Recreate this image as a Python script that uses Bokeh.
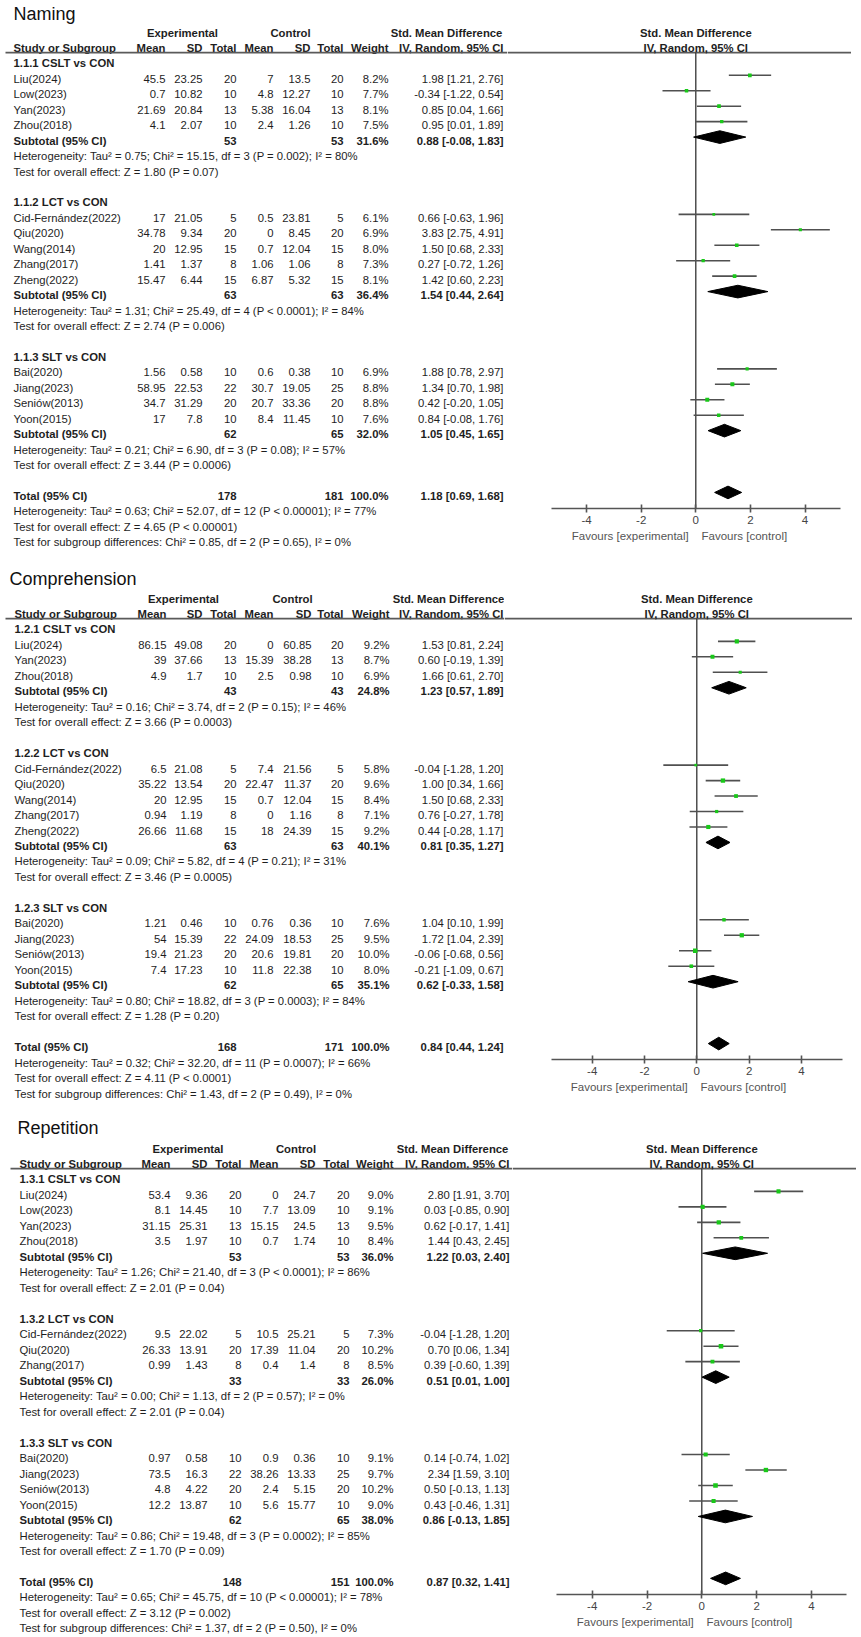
from bokeh.plotting import figure
from bokeh.layouts import column, row
from bokeh.models import Range1d, LinearAxis, FixedTicker, ColumnDataSource
from bokeh.core.properties import value
from bokeh.embed import file_html
from bokeh.resources import INLINE

FONT = "Liberation Sans"
TXT = "#1e1e1e"
GREEN = "#19c819"
GREY = "#505050"
BODY = "11.3px"

# ======================= Naming =======================
N_STUDY = ["Liu(2024)", "Low(2023)", "Yan(2023)", "Zhou(2018)",
           "Cid-Fernández(2022)", "Qiu(2020)", "Wang(2014)", "Zhang(2017)", "Zheng(2022)",
           "Bai(2020)", "Jiang(2023)", "Seniów(2013)", "Yoon(2015)"]
N_GROUP = [0, 0, 0, 0, 1, 1, 1, 1, 1, 2, 2, 2, 2]
N_E_MEAN = [45.5, 0.7, 21.69, 4.1, 17, 34.78, 20, 1.41, 15.47, 1.56, 58.95, 34.7, 17]
N_E_SD = [23.25, 10.82, 20.84, 2.07, 21.05, 9.34, 12.95, 1.37, 6.44, 0.58, 22.53, 31.29, 7.8]
N_E_N = [20, 10, 13, 10, 5, 20, 15, 8, 15, 10, 22, 20, 10]
N_C_MEAN = [7, 4.8, 5.38, 2.4, 0.5, 0, 0.7, 1.06, 6.87, 0.6, 30.7, 20.7, 8.4]
N_C_SD = [13.5, 12.27, 16.04, 1.26, 23.81, 8.45, 12.04, 1.06, 5.32, 0.38, 19.05, 33.36, 11.45]
N_C_N = [20, 10, 13, 10, 5, 20, 15, 8, 15, 10, 25, 20, 10]
N_WEIGHT = [8.2, 7.7, 8.1, 7.5, 6.1, 6.9, 8.0, 7.3, 8.1, 6.9, 8.8, 8.8, 7.6]
N_SMD = [1.98, -0.34, 0.85, 0.95, 0.66, 3.83, 1.50, 0.27, 1.42, 1.88, 1.34, 0.42, 0.84]
N_LO = [1.21, -1.22, 0.04, 0.01, -0.63, 2.75, 0.68, -0.72, 0.60, 0.78, 0.70, -0.20, -0.08]
N_HI = [2.76, 0.54, 1.66, 1.89, 1.96, 4.91, 2.33, 1.26, 2.23, 2.97, 1.98, 1.05, 1.76]
N_SUB_LABEL = ["1.1.1 CSLT vs CON", "1.1.2 LCT vs CON", "1.1.3 SLT vs CON"]
N_SUB_E_N = [53, 63, 62]
N_SUB_C_N = [53, 63, 65]
N_SUB_WEIGHT = [31.6, 36.4, 32.0]
N_SUB_SMD = [0.88, 1.54, 1.05]
N_SUB_LO = [-0.08, 0.44, 0.45]
N_SUB_HI = [1.83, 2.64, 1.65]
N_SUB_HET = ["Heterogeneity: Tau² = 0.75; Chi² = 15.15, df = 3 (P = 0.002); I² = 80%",
             "Heterogeneity: Tau² = 1.31; Chi² = 25.49, df = 4 (P < 0.0001); I² = 84%",
             "Heterogeneity: Tau² = 0.21; Chi² = 6.90, df = 3 (P = 0.08); I² = 57%"]
N_SUB_Z = ["Test for overall effect: Z = 1.80 (P = 0.07)",
           "Test for overall effect: Z = 2.74 (P = 0.006)",
           "Test for overall effect: Z = 3.44 (P = 0.0006)"]
N_TOT_N = [178, 181]
N_TOT_SMD = [1.18, 0.69, 1.68]
N_TOT_HET = "Heterogeneity: Tau² = 0.63; Chi² = 52.07, df = 12 (P < 0.00001); I² = 77%"
N_TOT_Z = "Test for overall effect: Z = 4.65 (P < 0.00001)"
N_SUBDIFF = "Test for subgroup differences: Chi² = 0.85, df = 2 (P = 0.65), I² = 0%"

# ======================= Comprehension =======================
C_STUDY = ["Liu(2024)", "Yan(2023)", "Zhou(2018)",
           "Cid-Fernández(2022)", "Qiu(2020)", "Wang(2014)", "Zhang(2017)", "Zheng(2022)",
           "Bai(2020)", "Jiang(2023)", "Seniów(2013)", "Yoon(2015)"]
C_GROUP = [0, 0, 0, 1, 1, 1, 1, 1, 2, 2, 2, 2]
C_E_MEAN = [86.15, 39, 4.9, 6.5, 35.22, 20, 0.94, 26.66, 1.21, 54, 19.4, 7.4]
C_E_SD = [49.08, 37.66, 1.7, 21.08, 13.54, 12.95, 1.19, 11.68, 0.46, 15.39, 21.23, 17.23]
C_E_N = [20, 13, 10, 5, 20, 15, 8, 15, 10, 22, 20, 10]
C_C_MEAN = [0, 15.39, 2.5, 7.4, 22.47, 0.7, 0, 18, 0.76, 24.09, 20.6, 11.8]
C_C_SD = [60.85, 38.28, 0.98, 21.56, 11.37, 12.04, 1.16, 24.39, 0.36, 18.53, 19.81, 22.38]
C_C_N = [20, 13, 10, 5, 20, 15, 8, 15, 10, 25, 20, 10]
C_WEIGHT = [9.2, 8.7, 6.9, 5.8, 9.6, 8.4, 7.1, 9.2, 7.6, 9.5, 10.0, 8.0]
C_SMD = [1.53, 0.60, 1.66, -0.04, 1.00, 1.50, 0.76, 0.44, 1.04, 1.72, -0.06, -0.21]
C_LO = [0.81, -0.19, 0.61, -1.28, 0.34, 0.68, -0.27, -0.28, 0.10, 1.04, -0.68, -1.09]
C_HI = [2.24, 1.39, 2.70, 1.20, 1.66, 2.33, 1.78, 1.17, 1.99, 2.39, 0.56, 0.67]
C_SUB_LABEL = ["1.2.1 CSLT vs CON", "1.2.2 LCT vs CON", "1.2.3 SLT vs CON"]
C_SUB_E_N = [43, 63, 62]
C_SUB_C_N = [43, 63, 65]
C_SUB_WEIGHT = [24.8, 40.1, 35.1]
C_SUB_SMD = [1.23, 0.81, 0.62]
C_SUB_LO = [0.57, 0.35, -0.33]
C_SUB_HI = [1.89, 1.27, 1.58]
C_SUB_HET = ["Heterogeneity: Tau² = 0.16; Chi² = 3.74, df = 2 (P = 0.15); I² = 46%",
             "Heterogeneity: Tau² = 0.09; Chi² = 5.82, df = 4 (P = 0.21); I² = 31%",
             "Heterogeneity: Tau² = 0.80; Chi² = 18.82, df = 3 (P = 0.0003); I² = 84%"]
C_SUB_Z = ["Test for overall effect: Z = 3.66 (P = 0.0003)",
           "Test for overall effect: Z = 3.46 (P = 0.0005)",
           "Test for overall effect: Z = 1.28 (P = 0.20)"]
C_TOT_N = [168, 171]
C_TOT_SMD = [0.84, 0.44, 1.24]
C_TOT_HET = "Heterogeneity: Tau² = 0.32; Chi² = 32.20, df = 11 (P = 0.0007); I² = 66%"
C_TOT_Z = "Test for overall effect: Z = 4.11 (P < 0.0001)"
C_SUBDIFF = "Test for subgroup differences: Chi² = 1.43, df = 2 (P = 0.49), I² = 0%"

# ======================= Repetition =======================
R_STUDY = ["Liu(2024)", "Low(2023)", "Yan(2023)", "Zhou(2018)",
           "Cid-Fernández(2022)", "Qiu(2020)", "Zhang(2017)",
           "Bai(2020)", "Jiang(2023)", "Seniów(2013)", "Yoon(2015)"]
R_GROUP = [0, 0, 0, 0, 1, 1, 1, 2, 2, 2, 2]
R_E_MEAN = [53.4, 8.1, 31.15, 3.5, 9.5, 26.33, 0.99, 0.97, 73.5, 4.8, 12.2]
R_E_SD = [9.36, 14.45, 25.31, 1.97, 22.02, 13.91, 1.43, 0.58, 16.3, 4.22, 13.87]
R_E_N = [20, 10, 13, 10, 5, 20, 8, 10, 22, 20, 10]
R_C_MEAN = [0, 7.7, 15.15, 0.7, 10.5, 17.39, 0.4, 0.9, 38.26, 2.4, 5.6]
R_C_SD = [24.7, 13.09, 24.5, 1.74, 25.21, 11.04, 1.4, 0.36, 13.33, 5.15, 15.77]
R_C_N = [20, 10, 13, 10, 5, 20, 8, 10, 25, 20, 10]
R_WEIGHT = [9.0, 9.1, 9.5, 8.4, 7.3, 10.2, 8.5, 9.1, 9.7, 10.2, 9.0]
R_SMD = [2.80, 0.03, 0.62, 1.44, -0.04, 0.70, 0.39, 0.14, 2.34, 0.50, 0.43]
R_LO = [1.91, -0.85, -0.17, 0.43, -1.28, 0.06, -0.60, -0.74, 1.59, -0.13, -0.46]
R_HI = [3.70, 0.90, 1.41, 2.45, 1.20, 1.34, 1.39, 1.02, 3.10, 1.13, 1.31]
R_SUB_LABEL = ["1.3.1 CSLT vs CON", "1.3.2 LCT vs CON", "1.3.3 SLT vs CON"]
R_SUB_E_N = [53, 33, 62]
R_SUB_C_N = [53, 33, 65]
R_SUB_WEIGHT = [36.0, 26.0, 38.0]
R_SUB_SMD = [1.22, 0.51, 0.86]
R_SUB_LO = [0.03, 0.01, -0.13]
R_SUB_HI = [2.40, 1.00, 1.85]
R_SUB_HET = ["Heterogeneity: Tau² = 1.26; Chi² = 21.40, df = 3 (P < 0.0001); I² = 86%",
             "Heterogeneity: Tau² = 0.00; Chi² = 1.13, df = 2 (P = 0.57); I² = 0%",
             "Heterogeneity: Tau² = 0.86; Chi² = 19.48, df = 3 (P = 0.0002); I² = 85%"]
R_SUB_Z = ["Test for overall effect: Z = 2.01 (P = 0.04)",
           "Test for overall effect: Z = 2.01 (P = 0.04)",
           "Test for overall effect: Z = 1.70 (P = 0.09)"]
R_TOT_N = [148, 151]
R_TOT_SMD = [0.87, 0.32, 1.41]
R_TOT_HET = "Heterogeneity: Tau² = 0.65; Chi² = 45.75, df = 10 (P < 0.00001); I² = 78%"
R_TOT_Z = "Test for overall effect: Z = 3.12 (P = 0.002)"
R_SUBDIFF = "Test for subgroup differences: Chi² = 1.37, df = 2 (P = 0.50), I² = 0%"

AXIS_TICKS = [-4, -2, 0, 2, 4]
AXIS_TICK_LABELS = ["-4", "-2", "0", "2", "4"]
AXIS_LABEL = "Favours [experimental]\u00a0\u00a0\u00a0\u00a0Favours [control]"


def fnum(v):
    return f"{v:g}"


def fci(e, lo, hi):
    return f"{e:.2f} [{lo:.2f}, {hi:.2f}]"


def fw(w):
    return f"{w:.1f}%"


def add_text(fig, items, align, bold, size=BODY, color=TXT):
    if not items:
        return
    src = ColumnDataSource(dict(x=[i[0] for i in items], y=[i[1] for i in items],
                                t=[i[2] for i in items]))
    fig.text(x="x", y="y", text="t", source=src, text_align=align, text_baseline="middle",
             text_font=value(FONT), text_font_size=value(size),
             text_font_style="bold" if bold else "normal", text_color=color)


def build_panel(title, D, L):
    top, bottom, row0, sp = L["top"], L["bottom"], L["row0"], L["sp"]

    def r2(pix):
        return (pix - row0) / sp

    split, right = L["split"], L["right"]
    cols = L["cols"]
    tx = L["text_x"]

    t = figure(frame_width=split, frame_height=bottom - top,
               x_range=Range1d(0, split), y_range=Range1d(r2(bottom), r2(top)),
               x_axis_type=None, y_axis_type=None, toolbar_location=None,
               output_backend="svg", min_border=0, outline_line_color=None,
               background_fill_color="white", border_fill_color="white")

    f = figure(frame_width=right - split, frame_height=L["axis_y"] - top,
               x_range=Range1d((split - L["zero"]) / L["unit"], (right - L["zero"]) / L["unit"]),
               y_range=Range1d(r2(L["axis_y"]), r2(top)),
               x_axis_type=None, y_axis_type=None, toolbar_location=None,
               output_backend="svg", min_border=0, outline_line_color=None,
               background_fill_color="white", border_fill_color="white")

    LB, LN, RB, RN, CB = [], [], [], [], []
    add_text(t, [(L["title_x"], r2(L["title_y"]), title)], "left", False, size="18px",
             color="#111111")
    CB += [(L["hdr"][0], 0, "Experimental"), (L["hdr"][1], 0, "Control"),
           (L["hdr"][2], 0, "Std. Mean Difference")]
    LB.append((tx, 1, "Study or Subgroup"))
    for c, h in zip(cols, ["Mean", "SD", "Total", "Mean", "SD", "Total", "Weight",
                           "IV, Random, 95% CI"]):
        RB.append((c, 1, h))

    study_rows, sub_rows = [], []
    r = 2
    for g in range(3):
        LB.append((tx, r, D["sub_label"][g]))
        r += 1
        for i, grp in enumerate(D["group"]):
            if grp != g:
                continue
            LN.append((tx, r, D["study"][i]))
            vals = [fnum(D["e_mean"][i]), fnum(D["e_sd"][i]), str(D["e_n"][i]),
                    fnum(D["c_mean"][i]), fnum(D["c_sd"][i]), str(D["c_n"][i]),
                    fw(D["weight"][i]), fci(D["smd"][i], D["lo"][i], D["hi"][i])]
            for c, v in zip(cols, vals):
                RN.append((c, r, v))
            study_rows.append(r)
            r += 1
        LB.append((tx, r, "Subtotal (95% CI)"))
        RB += [(cols[2], r, str(D["sub_e_n"][g])), (cols[5], r, str(D["sub_c_n"][g])),
               (cols[6], r, fw(D["sub_weight"][g])),
               (cols[7], r, fci(D["sub_smd"][g], D["sub_lo"][g], D["sub_hi"][g]))]
        sub_rows.append(r)
        r += 1
        LN.append((tx, r, D["sub_het"][g]))
        r += 1
        LN.append((tx, r, D["sub_z"][g]))
        r += 2
    tot_row = r
    LB.append((tx, r, "Total (95% CI)"))
    RB += [(cols[2], r, str(D["tot_n"][0])), (cols[5], r, str(D["tot_n"][1])),
           (cols[6], r, fw(100.0)), (cols[7], r, fci(*D["tot_smd"]))]
    LN += [(tx, r + 1, D["tot_het"]), (tx, r + 2, D["tot_z"]), (tx, r + 3, D["subdiff"])]

    add_text(t, LB, "left", True)
    add_text(t, LN, "left", False)
    add_text(t, RB, "right", True)
    add_text(t, RN, "right", False)
    add_text(t, CB, "center", True)

    hl = 1.3
    t.segment(x0=[L["line_x0"]], y0=[hl], x1=[split], y1=[hl], line_color="#5a5a5a",
              line_width=1.6)
    f.segment(x0=[f.x_range.start], y0=[hl], x1=[f.x_range.end], y1=[hl],
              line_color="#5a5a5a", line_width=1.6)
    add_text(f, [(0, 0, "Std. Mean Difference"), (0, 1, "IV, Random, 95% CI")], "center", True)
    f.segment(x0=[0], y0=[hl], x1=[0], y1=[r2(L["axis_y"])], line_color="#333333",
              line_width=1.3)

    off = 0.23
    ys = [rr - off for rr in study_rows]
    f.segment(x0=D["lo"], y0=ys, x1=D["hi"], y1=ys, line_color=GREY, line_width=1.6)
    f.scatter(x=D["smd"], y=ys, marker="square", size=[w * 0.45 for w in D["weight"]],
              fill_color=GREEN, line_color=None)

    H = 0.41
    dx, dy = [], []
    for g, rr in enumerate(sub_rows):
        y = rr - off
        e, lo, hi = D["sub_smd"][g], D["sub_lo"][g], D["sub_hi"][g]
        dx.append([lo, e, hi, e])
        dy.append([y, y - H, y, y + H])
    y = tot_row - off
    e, lo, hi = D["tot_smd"]
    dx.append([lo, e, hi, e])
    dy.append([y, y - H, y, y + H])
    f.patches(xs=dx, ys=dy, fill_color="black", line_color="black", line_width=1)

    ax = LinearAxis(ticker=FixedTicker(ticks=AXIS_TICKS, minor_ticks=[]),
                    major_label_overrides={t_: s for t_, s in zip(AXIS_TICKS, AXIS_TICK_LABELS)},
                    bounds=L["bounds"], axis_label=AXIS_LABEL,
                    axis_line_color="#555555", axis_line_width=1.6,
                    major_tick_line_color="#555555", major_tick_line_width=1.6,
                    major_tick_in=4, major_tick_out=4, minor_tick_line_color=None,
                    major_label_text_font=FONT, major_label_text_font_size="11.5px",
                    major_label_text_color="#444444", major_label_standoff=3,
                    axis_label_text_font=FONT, axis_label_text_font_size="11.5px",
                    axis_label_text_font_style="normal", axis_label_text_color="#555555",
                    axis_label_standoff=3)
    f.add_layout(ax, "below")
    return row(t, f, spacing=0)


def pack(p):
    return dict(study=p["STUDY"], group=p["GROUP"], e_mean=p["E_MEAN"], e_sd=p["E_SD"],
                e_n=p["E_N"], c_mean=p["C_MEAN"], c_sd=p["C_SD"], c_n=p["C_N"],
                weight=p["WEIGHT"], smd=p["SMD"], lo=p["LO"], hi=p["HI"],
                sub_label=p["SUB_LABEL"], sub_e_n=p["SUB_E_N"], sub_c_n=p["SUB_C_N"],
                sub_weight=p["SUB_WEIGHT"], sub_smd=p["SUB_SMD"], sub_lo=p["SUB_LO"],
                sub_hi=p["SUB_HI"], sub_het=p["SUB_HET"], sub_z=p["SUB_Z"],
                tot_n=p["TOT_N"], tot_smd=p["TOT_SMD"], tot_het=p["TOT_HET"],
                tot_z=p["TOT_Z"], subdiff=p["SUBDIFF"])


g = globals()
DN = pack({k[2:]: v for k, v in g.items() if k.startswith("N_")})
DC = pack({k[2:]: v for k, v in g.items() if k.startswith("C_")})
DR = pack({k[2:]: v for k, v in g.items() if k.startswith("R_")})

LAY_N = dict(top=0, bottom=556, row0=32, sp=15.45, axis_y=508, zero=695.3, unit=27.3,
             split=507, right=851, bounds=(-5.28, 5.31), title_x=13, title_y=13,
             text_x=13, line_x0=5,
             cols=[165, 202, 236, 273, 310, 343, 388, 503], hdr=(182, 290, 446))
LAY_C = dict(top=556, bottom=1104, row0=598, sp=15.47, axis_y=1059, zero=696.3, unit=26.15,
             split=504, right=852, bounds=(-5.55, 5.56), title_x=9, title_y=578,
             text_x=14, line_x0=5,
             cols=[166, 202, 236, 273, 311, 343, 389, 503], hdr=(183, 292, 448))
LAY_R = dict(top=1104, bottom=1637, row0=1148, sp=15.48, axis_y=1594, zero=701.3, unit=27.4,
             split=512, right=856, bounds=(-5.29, 5.27), title_x=17, title_y=1127,
             text_x=19, line_x0=10,
             cols=[170, 207, 241, 278, 315, 349, 393, 509], hdr=(187.5, 295.5, 452))

page = column(build_panel("Naming", DN, LAY_N),
              build_panel("Comprehension", DC, LAY_C),
              build_panel("Repetition", DR, LAY_R), spacing=0)

open("out.html", "w").write(file_html(page, INLINE))
